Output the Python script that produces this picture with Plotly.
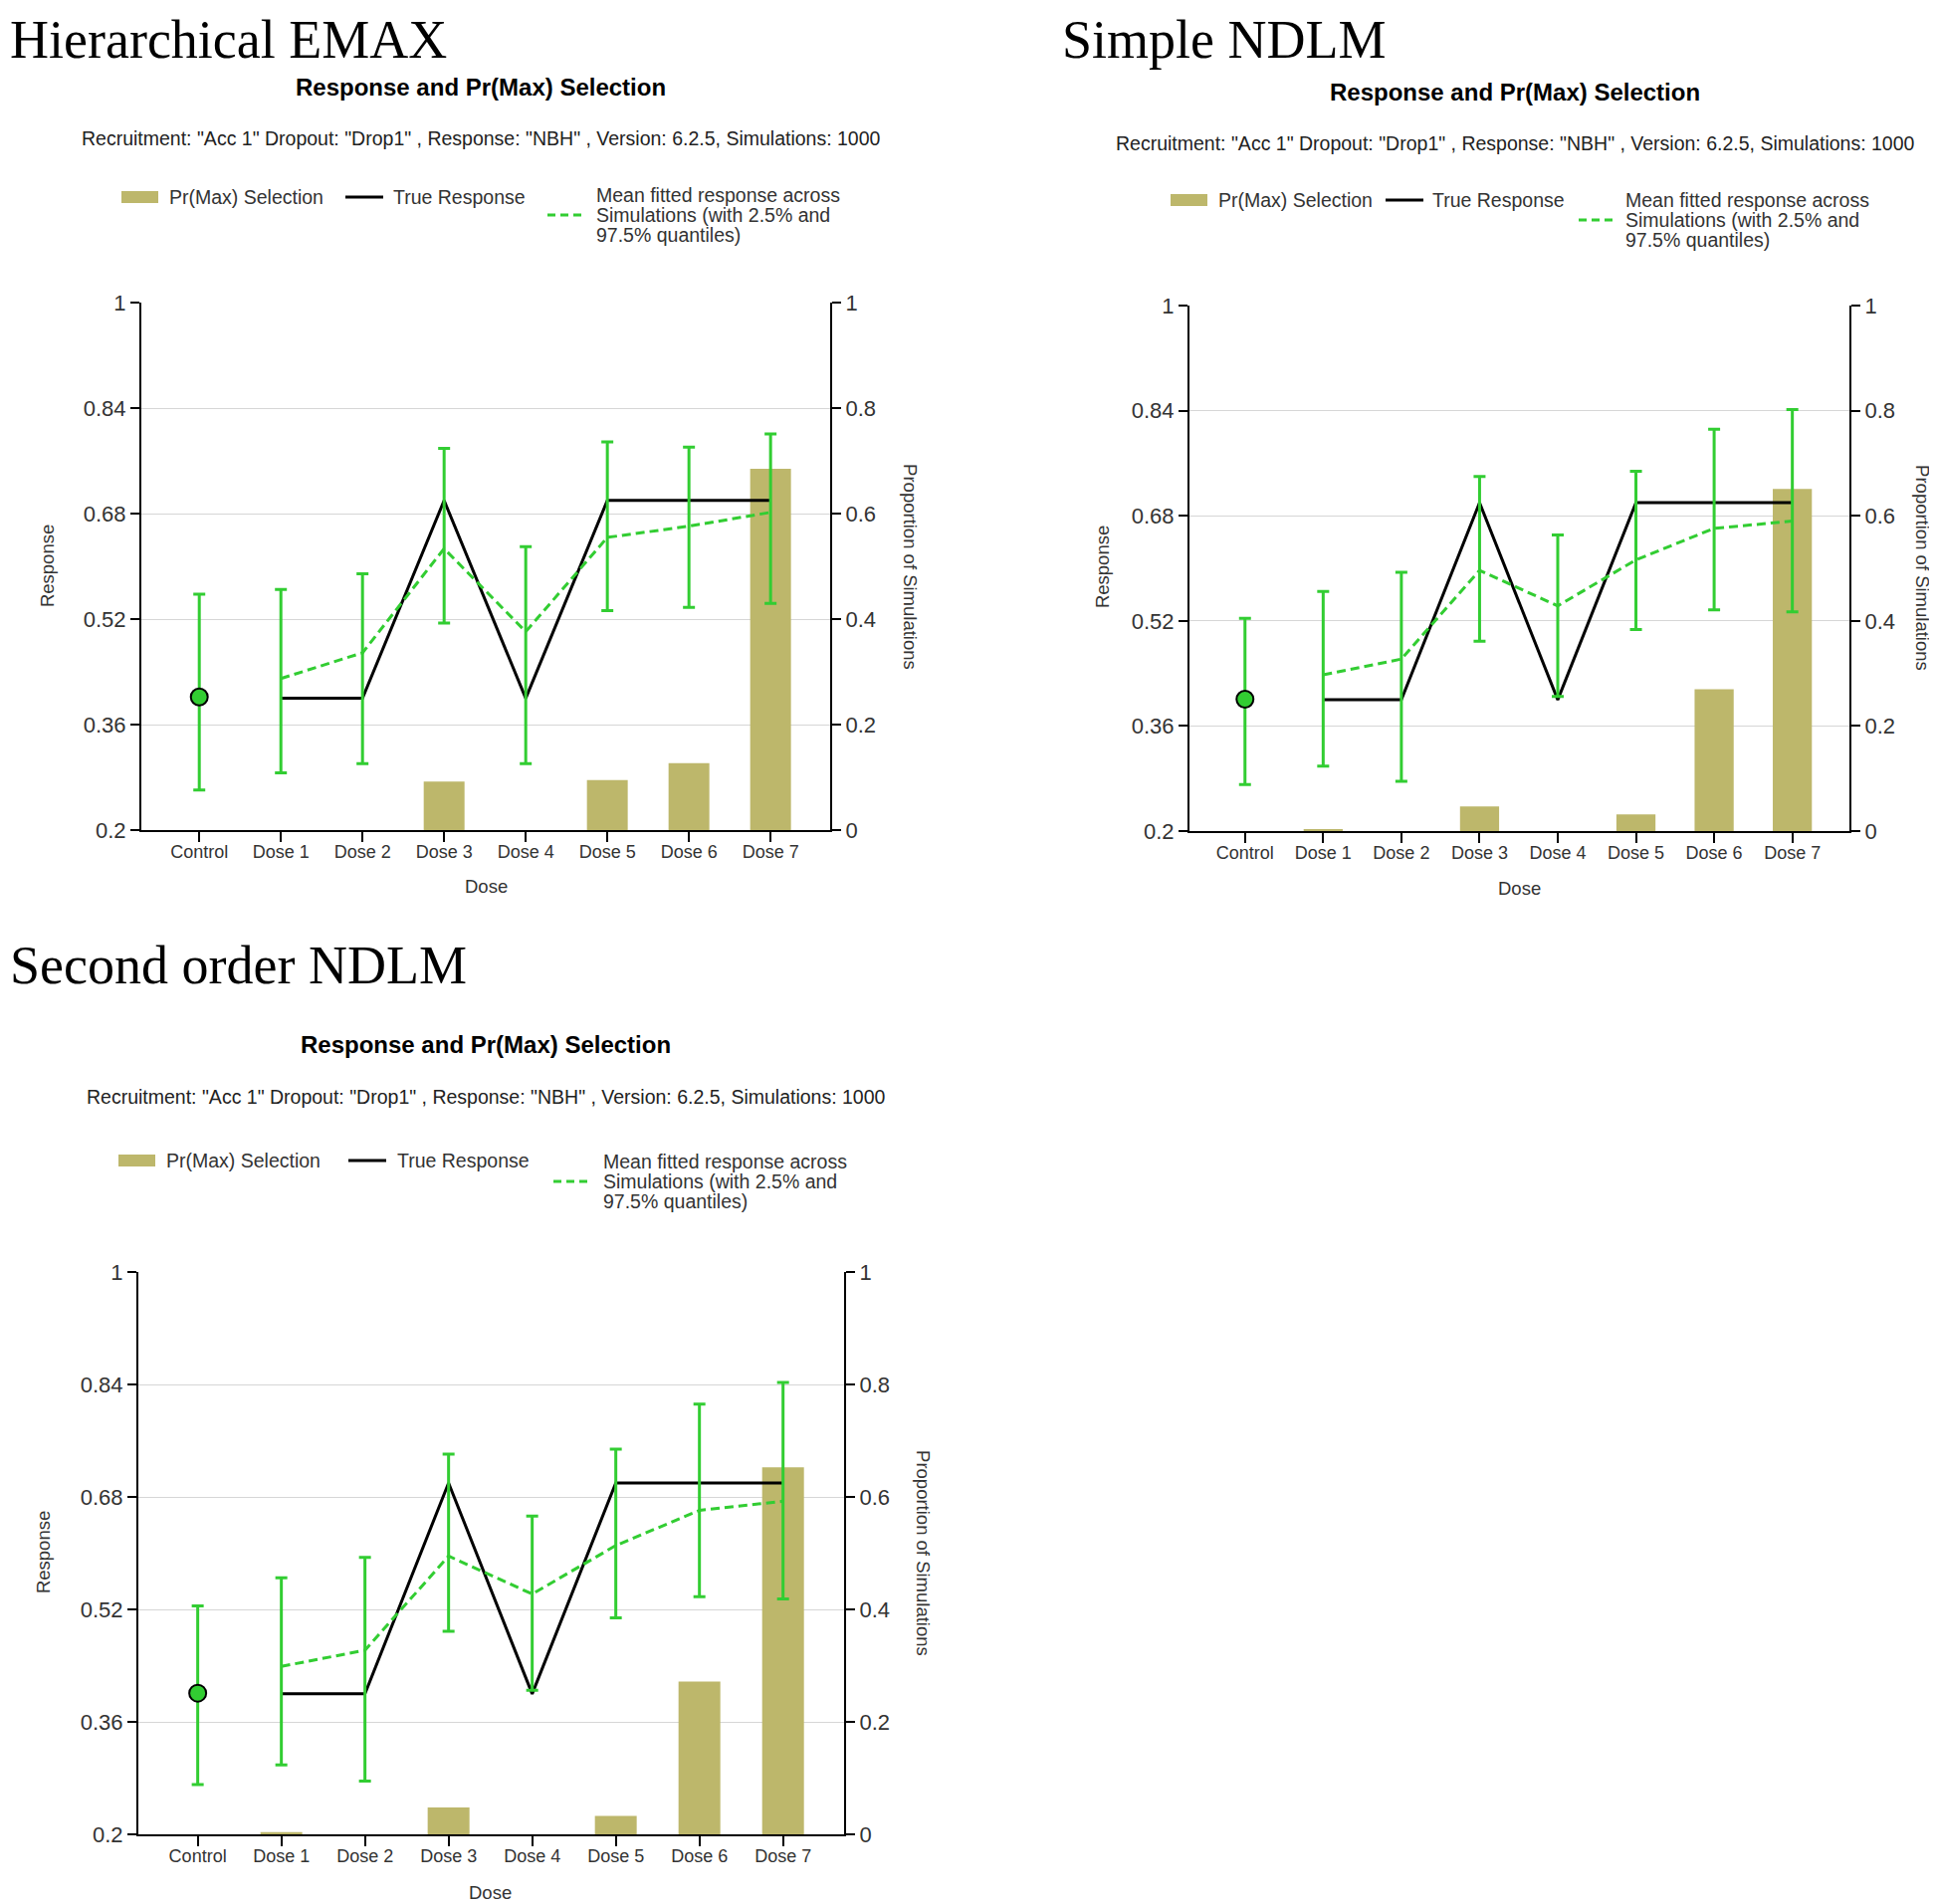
import plotly.graph_objects as go

# page is 1946x1913; the html body keeps an 8px margin
W, H = 1946, 1913
PAGE_MARGIN = 8
FW, FH = W - PAGE_MARGIN, H + 8
# the captured page comes out slightly squeezed vertically (measured on earlier renders)
Y_OFFSET, Y_SCALE = 13, 0.987

doses = ["Control", "Dose 1", "Dose 2", "Dose 3", "Dose 4", "Dose 5", "Dose 6", "Dose 7"]
true_response = [0.40, 0.40, 0.40, 0.70, 0.40, 0.70, 0.70, 0.70]

# Hierarchical EMAX
emax_mean = [0.402, 0.430, 0.469, 0.627, 0.501, 0.644, 0.661, 0.682]
emax_lo = [0.261, 0.287, 0.301, 0.514, 0.301, 0.533, 0.538, 0.544]
emax_hi = [0.558, 0.565, 0.589, 0.779, 0.630, 0.789, 0.781, 0.801]
emax_prmax = [0, 0, 0, 0.092, 0, 0.095, 0.127, 0.685]

# Simple NDLM
ndlm_mean = [0.401, 0.438, 0.462, 0.597, 0.543, 0.613, 0.661, 0.672]
ndlm_lo = [0.271, 0.299, 0.276, 0.489, 0.405, 0.507, 0.537, 0.534]
ndlm_hi = [0.524, 0.565, 0.594, 0.740, 0.651, 0.748, 0.812, 0.842]
ndlm_prmax = [0, 0.003, 0, 0.047, 0, 0.032, 0.270, 0.651]

# Second order NDLM
ndlm2_mean = [0.401, 0.439, 0.462, 0.596, 0.542, 0.611, 0.661, 0.674]
ndlm2_lo = [0.271, 0.299, 0.276, 0.489, 0.405, 0.508, 0.538, 0.535]
ndlm2_hi = [0.525, 0.565, 0.594, 0.741, 0.653, 0.748, 0.812, 0.843]
ndlm2_prmax = [0, 0.004, 0, 0.048, 0, 0.033, 0.272, 0.653]

resp_ticks = [0.2, 0.36, 0.52, 0.68, 0.84, 1]
resp_ticktext = ["0.2", "0.36", "0.52", "0.68", "0.84", "1"]
prop_ticks = [0, 0.2, 0.4, 0.6, 0.8, 1]
prop_ticktext = ["0", "0.2", "0.4", "0.6", "0.8", "1"]

heading_names = ["Hierarchical EMAX", "Simple NDLM", "Second order NDLM"]
chart_title = "Response and Pr(Max) Selection"
subtitle = ('Recruitment: "Acc 1" Dropout: "Drop1" , Response: "NBH" , '
            'Version: 6.2.5, Simulations: 1000')
legend_labels = ["Pr(Max) Selection", "True Response",
                 "Mean fitted response across", "Simulations (with 2.5% and", "97.5% quantiles)"]

KHAKI = "#BDB76B"
GREEN = "#32CD32"
TEXT = "#333333"
FONT = "Liberation Sans, Arial, sans-serif"

# pixel layout of each panel (screen coordinates as seen in the picture)
panels = [
    dict(mean=emax_mean, lo=emax_lo, hi=emax_hi, pr=emax_prmax,
         head=(8, 41), box=(142, 834, 305, 835), title=(483, 88), sub=(483, 140),
         leg=(122, 199, 347, 393, 550, 597, 217), ylab=(47, 570), y2lab=(915, 570), xlab=(488, 891)),
    dict(mean=ndlm_mean, lo=ndlm_lo, hi=ndlm_hi, pr=ndlm_prmax,
         head=(1065, 41), box=(1195, 1858, 308, 836), title=(1522, 93), sub=(1522, 145),
         leg=(1176, 202, 1392, 1437, 1586, 1631, 222), ylab=(1107, 571), y2lab=(1932, 571), xlab=(1526, 893)),
    dict(mean=ndlm2_mean, lo=ndlm2_lo, hi=ndlm2_hi, pr=ndlm2_prmax,
         head=(8, 971), box=(139, 848, 1279, 1844), title=(488, 1050), sub=(488, 1103),
         leg=(119, 1167, 350, 397, 556, 604, 1188), ylab=(43, 1561), y2lab=(928, 1561), xlab=(493, 1902)),
]


def px(x):
    return (x - PAGE_MARGIN) / FW


def py(y):
    y_page = (y - Y_OFFSET) / Y_SCALE
    return 1 - (y_page - PAGE_MARGIN) / FH


fig = go.Figure()
annotations = []
shapes = []


def note(text, xy, size=19, color=TEXT, family=FONT, xanchor="center", angle=0):
    annotations.append(dict(
        text=text, x=px(xy[0]), y=py(xy[1]), xref="paper", yref="paper",
        xanchor=xanchor, yanchor="middle", showarrow=False, textangle=angle,
        font=dict(size=size, color=color, family=family),
    ))


for i, p in enumerate(panels):
    xn = "x" if i == 0 else f"x{i + 1}"
    yb = f"y{2 * i + 1}" if i else "y"
    yo = f"y{2 * i + 2}"
    mean, lo, hi = p["mean"], p["lo"], p["hi"]

    # bars on the proportion axis (base axis, right side) so lines sit above them
    fig.add_trace(go.Bar(
        x=doses, y=p["pr"], xaxis=xn, yaxis=yb, width=0.5,
        marker=dict(color=KHAKI, line=dict(width=0)), showlegend=False,
    ))
    # true response, doses only
    fig.add_trace(go.Scatter(
        x=doses[1:], y=true_response[1:], xaxis=xn, yaxis=yo, mode="lines",
        line=dict(color="black", width=3), showlegend=False,
    ))
    # mean fitted response with 2.5% / 97.5% quantile bars
    fig.add_trace(go.Scatter(
        x=doses[1:], y=mean[1:], xaxis=xn, yaxis=yo, mode="lines",
        line=dict(color=GREEN, width=3, dash="9px,5px"), showlegend=False,
        error_y=dict(type="data", symmetric=False,
                     array=[h - m for h, m in zip(hi[1:], mean[1:])],
                     arrayminus=[m - l for m, l in zip(mean[1:], lo[1:])],
                     color=GREEN, thickness=3, width=6),
    ))
    # control
    fig.add_trace(go.Scatter(
        x=doses[:1], y=mean[:1], xaxis=xn, yaxis=yo, mode="markers",
        marker=dict(color=GREEN, size=17, line=dict(color="black", width=2)),
        showlegend=False,
        error_y=dict(type="data", symmetric=False,
                     array=[hi[0] - mean[0]], arrayminus=[mean[0] - lo[0]],
                     color=GREEN, thickness=3, width=6),
    ))

    left, right, top, bottom = p["box"]
    xkey = "xaxis" if i == 0 else f"xaxis{i + 1}"
    ybkey = "yaxis" if i == 0 else f"yaxis{2 * i + 1}"
    yokey = f"yaxis{2 * i + 2}"
    axis_common = dict(showline=True, linecolor="black", linewidth=2, ticks="outside",
                       tickcolor="black", tickwidth=2, zeroline=False, fixedrange=True)
    fig.update_layout({
        xkey: dict(domain=[px(left), px(right)], anchor=yb, type="category",
                   range=[-0.71, 7.73], ticklen=10, ticklabelstandoff=-6, showgrid=False,
                   tickfont=dict(size=18, color=TEXT, family=FONT), **axis_common),
        ybkey: dict(domain=[py(bottom), py(top)], anchor=xn, side="right", range=[0, 1],
                    tickvals=prop_ticks, ticktext=prop_ticktext, ticklen=9, showgrid=False,
                    tickfont=dict(size=22, color=TEXT, family=FONT), **axis_common),
        yokey: dict(overlaying=yb, anchor=xn, side="left", range=[0.2, 1],
                    tickvals=resp_ticks, ticktext=resp_ticktext, ticklen=9,
                    showgrid=True, gridcolor="#D6D6D6", gridwidth=1,
                    tickfont=dict(size=22, color=TEXT, family=FONT), **axis_common),
    })

    note(heading_names[i], p["head"], size=54, color="black",
         family="Liberation Serif, Times New Roman, serif", xanchor="left")
    note("<b>" + chart_title + "</b>", p["title"], size=24, color="black")
    note(subtitle, p["sub"], size=19.5, color="#222222")
    note("Response", p["ylab"], size=18.5, angle=-90)
    note("Proportion of Simulations", p["y2lab"], size=18.5, angle=90)
    note("Dose", p["xlab"], size=18.5)

    # legend drawn by hand
    sx, ly, bx, btx, dx, dtx, dy = p["leg"]
    shapes.append(dict(type="rect", xref="paper", yref="paper", x0=px(sx), x1=px(sx + 37),
                       y0=py(ly - 6), y1=py(ly + 6), fillcolor=KHAKI, line=dict(width=0)))
    note(legend_labels[0], (sx + 46, ly), size=19.5, xanchor="left")
    shapes.append(dict(type="line", xref="paper", yref="paper", x0=px(bx), x1=px(bx + 38),
                       y0=py(ly), y1=py(ly), line=dict(color="black", width=3)))
    note(legend_labels[1], (btx, ly), size=19.5, xanchor="left")
    shapes.append(dict(type="line", xref="paper", yref="paper", x0=px(dx), x1=px(dx + 36),
                       y0=py(dy), y1=py(dy), line=dict(color=GREEN, width=3, dash="8px,5px")))
    for k, line_text in enumerate(legend_labels[2:]):
        note(line_text, (dtx, dy - 20 + 20 * k), size=19.5, xanchor="left")

fig.update_layout(
    width=FW, height=FH, margin=dict(l=0, r=0, t=0, b=0),
    paper_bgcolor="white", plot_bgcolor="white",
    showlegend=False, barmode="overlay",
    annotations=annotations, shapes=shapes,
    font=dict(family=FONT, color=TEXT),
)

fig.write_html("out.html")
